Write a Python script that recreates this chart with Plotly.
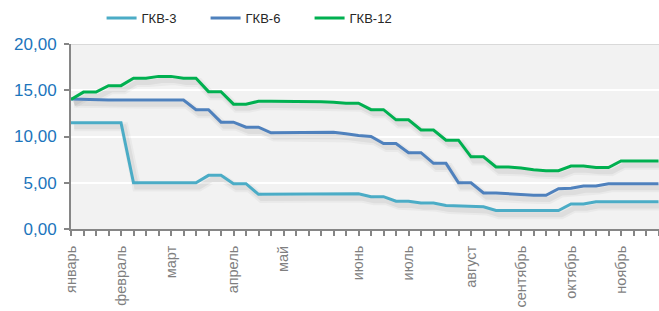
import plotly.graph_objects as go

# ---- data (weekly observations) ----
gkv3 = [11.5, 11.5, 11.5, 11.5, 11.5, 5.0, 5.0, 5.0, 5.0, 5.0,
        5.0, 5.8, 5.8, 4.9, 4.9, 3.75, 3.75, 3.75, 3.75, 3.75,
        3.75, 3.8, 3.8, 3.8, 3.5, 3.5, 3.0, 3.0, 2.8, 2.8,
        2.55, 2.5, 2.4, 2.4, 2.0, 2.0, 2.0, 2.0, 2.0, 2.0,
        2.7, 2.7, 2.95, 2.95, 2.95, 2.95, 2.95, 2.95]
gkv6 = [14.05, 14.0, 13.95, 13.95, 13.95, 13.95, 13.95, 13.95, 13.95, 13.95,
        12.9, 12.9, 11.55, 11.55, 11.0, 11.0, 10.4, 10.4, 10.4, 10.45,
        10.45, 10.45, 10.3, 10.1, 10.0, 9.25, 9.25, 8.25, 8.25, 7.1,
        7.1, 5.0, 5.0, 3.9, 3.9, 3.8, 3.7, 3.65, 3.65, 4.35,
        4.4, 4.65, 4.65, 4.9, 4.9, 4.9, 4.9, 4.9]
gkv12 = [14.0, 14.8, 14.8, 15.5, 15.5, 16.3, 16.3, 16.5, 16.5, 16.3,
         16.3, 14.85, 14.85, 13.5, 13.5, 13.8, 13.8, 13.8, 13.8, 13.75,
         13.75, 13.7, 13.6, 13.6, 12.9, 12.9, 11.8, 11.8, 10.7, 10.7,
         9.6, 9.6, 7.8, 7.8, 6.7, 6.7, 6.6, 6.4, 6.3, 6.3,
         6.8, 6.8, 6.65, 6.65, 7.35, 7.35, 7.35, 7.35]
series_names = ["ГКВ-3", "ГКВ-6", "ГКВ-12"]
month_labels = ["январь", "февраль", "март", "апрель", "май", "июнь",
                "июль", "август", "сентябрь", "октябрь", "ноябрь"]
month_index = [0, 4, 8, 13, 17, 23, 27, 32, 36, 40, 44]
y_ticks = [0, 5, 10, 15, 20]

# ---- build ----
weeks = list(range(len(gkv3)))
ticktext = [""] * len(weeks)
for idx, lab in zip(month_index, month_labels):
    ticktext[idx] = lab

colors = ["#4bacc6", "#4f81bd", "#00b050"]
fig = go.Figure()

# soft shadows (derived from data)
for ys in [gkv3, gkv6, gkv12]:
    for w, a in [(9, 0.035), (5, 0.05)]:
        fig.add_trace(go.Scatter(
            x=[v + 0.25 for v in weeks], y=[v - 0.45 for v in ys],
            mode="lines", line=dict(color=f"rgba(0,0,0,{a})", width=w),
            showlegend=False, hoverinfo="skip"))

for ys, name, c in zip([gkv3, gkv6, gkv12], series_names, colors):
    fig.add_trace(go.Scatter(x=weeks, y=ys, mode="lines", name=name,
                             line=dict(color=c, width=3)))

fig.add_shape(type="line", xref="paper", yref="y", x0=0, x1=1, y0=20, y1=20,
              line=dict(color="#d9d9d9", width=2), layer="below")

fig.update_layout(
    width=659, height=311,
    margin=dict(l=71, r=0, t=44, b=82, autoexpand=False),
    paper_bgcolor="white", plot_bgcolor="#f2f2f2",
    separators=", ",
    font=dict(family="Liberation Sans, Arial, sans-serif"),
    legend=dict(orientation="h", x=0.052, xanchor="left", y=0.99, yanchor="top",
                yref="container",
                font=dict(size=13, color="#262626"),
                entrywidth=59, itemwidth=30, bgcolor="rgba(0,0,0,0)"),
    xaxis=dict(range=[0, 47.04], tickmode="array", tickvals=weeks, ticktext=ticktext,
               tickangle=-90, ticks="outside", ticklen=5, tickwidth=1.5,
               tickcolor="#868686", showline=True, linecolor="#868686", linewidth=2,
               showgrid=False, zeroline=False, ticklabelstandoff=4,
               tickfont=dict(size=14.5, color="#7f7f7f")),
    yaxis=dict(range=[0, 20], tickvals=y_ticks, tickformat=".2f",
               ticks="outside", ticklen=5, tickwidth=1.5, tickcolor="#868686",
               showline=True, linecolor="#868686", linewidth=2,
               gridcolor="white", gridwidth=2, zeroline=False,
               ticklabelstandoff=4,
               tickfont=dict(size=17, color="#1c75bc")),
)

fig.write_html("out.html", config={"displayModeBar": False},
               post_script="document.body.style.margin='0';")
